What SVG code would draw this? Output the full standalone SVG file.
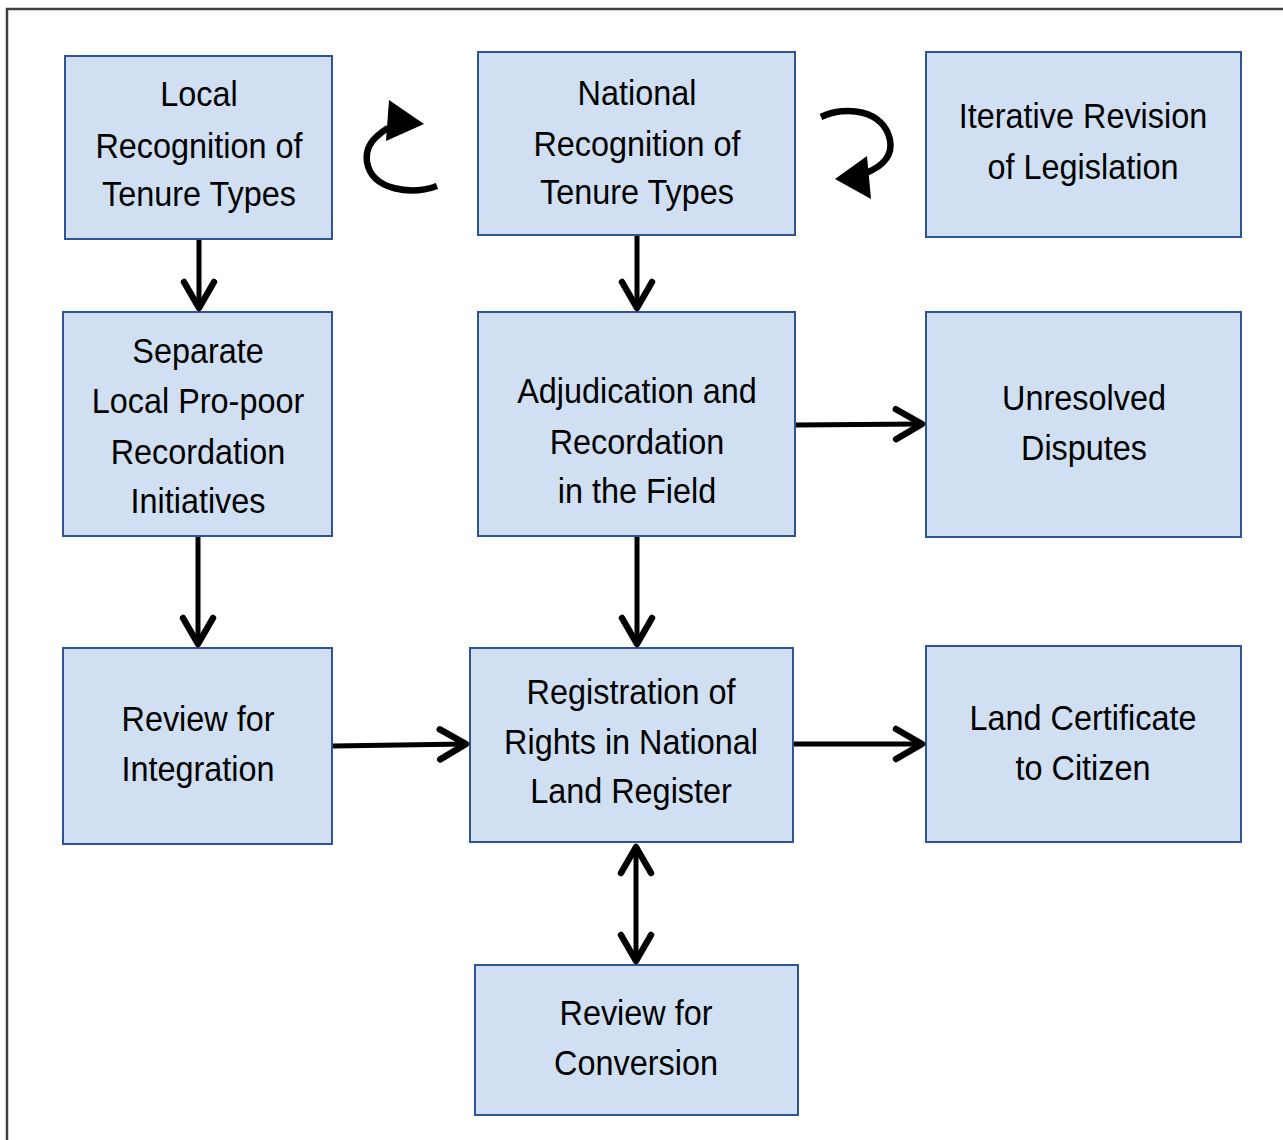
<svg xmlns="http://www.w3.org/2000/svg" width="1283" height="1140" viewBox="0 0 1283 1140">
<defs>
<style>
.box{fill:#D0E0F2;stroke:#2F5496;stroke-width:2}
.t{font-family:"Liberation Sans",Arial,sans-serif;font-size:36px;fill:#000;text-anchor:middle}
.c{fill:none;stroke:#000;stroke-width:5}
</style>
<marker id="ah" markerUnits="userSpaceOnUse" viewBox="-32 -20 36 40" refX="0" refY="0" markerWidth="36" markerHeight="40" orient="auto-start-reverse">
<path d="M -26 -15 L 0 0 L -26 15" fill="none" stroke="#000" stroke-width="6.5" stroke-linejoin="round" stroke-linecap="round"/>
</marker>
</defs>
<rect width="1283" height="1140" fill="#fff"/>
<rect x="7" y="9" width="1400" height="1300" fill="none" stroke="#404040" stroke-width="2.5"/>

<g id="n-local">
<rect class="box" x="65" y="56" width="267" height="183"/>
<g transform="translate(199,0) scale(0.9,1)">
<text class="t" x="0" y="106">Local</text>
<text class="t" x="0" y="158">Recognition of</text>
<text class="t" x="0" y="206">Tenure Types</text>
</g>
</g>

<g id="n-national">
<rect class="box" x="478" y="52" width="317" height="183"/>
<g transform="translate(637,0) scale(0.9,1)">
<text class="t" x="0" y="105">National</text>
<text class="t" x="0" y="156">Recognition of</text>
<text class="t" x="0" y="204">Tenure Types</text>
</g>
</g>

<g id="n-iterative">
<rect class="box" x="926" y="52" width="315" height="185"/>
<g transform="translate(1083,0) scale(0.9,1)">
<text class="t" x="0" y="128">Iterative Revision</text>
<text class="t" x="0" y="179">of Legislation</text>
</g>
</g>

<g id="n-separate">
<rect class="box" x="63" y="312" width="269" height="224"/>
<g transform="translate(198,0) scale(0.9,1)">
<text class="t" x="0" y="363">Separate</text>
<text class="t" x="0" y="413">Local Pro-poor</text>
<text class="t" x="0" y="464">Recordation</text>
<text class="t" x="0" y="513">Initiatives</text>
</g>
</g>

<g id="n-adjudication">
<rect class="box" x="478" y="312" width="317" height="224"/>
<g transform="translate(637,0) scale(0.9,1)">
<text class="t" x="0" y="403">Adjudication and</text>
<text class="t" x="0" y="454">Recordation</text>
<text class="t" x="0" y="503">in the Field</text>
</g>
</g>

<g id="n-unresolved">
<rect class="box" x="926" y="312" width="315" height="225"/>
<g transform="translate(1084,0) scale(0.9,1)">
<text class="t" x="0" y="410">Unresolved</text>
<text class="t" x="0" y="460">Disputes</text>
</g>
</g>

<g id="n-review-integration">
<rect class="box" x="63" y="648" width="269" height="196"/>
<g transform="translate(198,0) scale(0.9,1)">
<text class="t" x="0" y="731">Review for</text>
<text class="t" x="0" y="781">Integration</text>
</g>
</g>

<g id="n-registration">
<rect class="box" x="470" y="648" width="323" height="194"/>
<g transform="translate(631,0) scale(0.9,1)">
<text class="t" x="0" y="704">Registration of</text>
<text class="t" x="0" y="754">Rights in National</text>
<text class="t" x="0" y="803">Land Register</text>
</g>
</g>

<g id="n-certificate">
<rect class="box" x="926" y="646" width="315" height="196"/>
<g transform="translate(1083,0) scale(0.9,1)">
<text class="t" x="0" y="730">Land Certificate</text>
<text class="t" x="0" y="780">to Citizen</text>
</g>
</g>

<g id="n-review-conversion">
<rect class="box" x="475" y="965" width="323" height="150"/>
<g transform="translate(636,0) scale(0.9,1)">
<text class="t" x="0" y="1025">Review for</text>
<text class="t" x="0" y="1075">Conversion</text>
</g>
</g>

<g id="connectors">
<line class="c" x1="199" y1="240" x2="199" y2="308" marker-end="url(#ah)"/>
<line class="c" x1="637" y1="236" x2="637" y2="308" marker-end="url(#ah)"/>
<line class="c" x1="198" y1="537" x2="198" y2="644" marker-end="url(#ah)"/>
<line class="c" x1="637" y1="537" x2="637" y2="644" marker-end="url(#ah)"/>
<line class="c" x1="796" y1="425" x2="922" y2="424" marker-end="url(#ah)"/>
<line class="c" x1="333" y1="746" x2="466" y2="744" marker-end="url(#ah)"/>
<line class="c" x1="794" y1="744" x2="922" y2="744" marker-end="url(#ah)"/>
<line class="c" x1="636" y1="847" x2="636" y2="961" marker-start="url(#ah)" marker-end="url(#ah)"/>
<path d="M 437 186 C 412 195 372 191 367 162 C 365 148 372 138 388 128" fill="none" stroke="#000" stroke-width="6.5"/>
<polygon points="389,100 424,124 386,141" fill="#000"/>
<path d="M 821 117 C 846 105 884 110 890 140 C 893 156 883 166 866 173" fill="none" stroke="#000" stroke-width="6.5"/>
<polygon points="835,179 867,156 871,199" fill="#000"/>
</g>
</svg>
